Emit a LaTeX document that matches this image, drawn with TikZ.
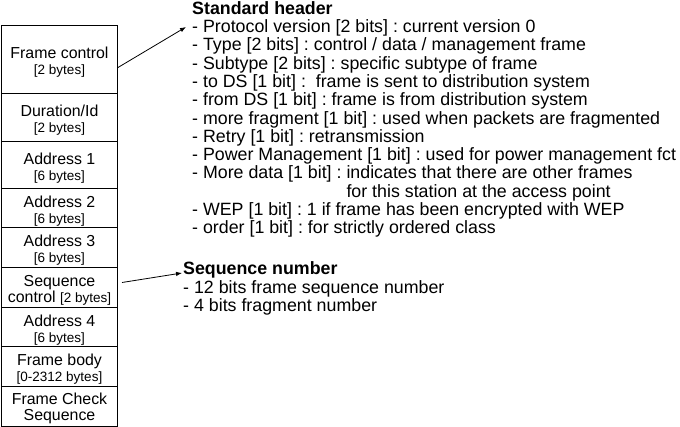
\documentclass[tikz,border=0pt]{standalone}
\usepackage{fontspec}
\setmainfont{Liberation Sans}
\usetikzlibrary{arrows.meta}
\newcommand{\subsz}{\fontsize{13.5}{16}\selectfont}
\frenchspacing
\begin{document}
\begin{tikzpicture}[x=1pt,y=-1pt,
  field/.style={draw, line width=1pt, minimum width=116pt, inner sep=0pt, anchor=north west},
  fieldtxt/.style={align=center, font=\fontsize{15.9}{16}\selectfont, inner sep=0pt},
  txtline/.style={anchor=base west, inner sep=0pt, font=\fontsize{17.8}{18.3}\selectfont},
  arr/.style={-{Latex[length=6pt,width=4.5pt]}, line width=0.8pt}]
\useasboundingbox (0,0) rectangle (680,427);
% field boxes
\node[field, minimum height=68pt] (fc) at (1,25) {};
\node[field, minimum height=48pt] (dur) at (1,93) {};
\node[field, minimum height=47pt] (a1) at (1,141) {};
\node[field, minimum height=39pt] (a2) at (1,188) {};
\node[field, minimum height=40pt] (a3) at (1,227) {};
\node[field, minimum height=40pt] (seq) at (1,267) {};
\node[field, minimum height=39pt] (a4) at (1,307) {};
\node[field, minimum height=40pt] (body) at (1,346) {};
\node[field, minimum height=40pt] (fcs) at (1,386) {};
% field texts
\node[fieldtxt] (fct) at ([yshift=-3pt]fc.center) {Frame control\\{\subsz [2 bytes]}};
\node[fieldtxt] (durt) at ([yshift=-3pt]dur.center) {Duration/Id\\{\subsz [2 bytes]}};
\node[fieldtxt] (a1t) at ([yshift=-3pt]a1.center) {Address 1\\{\subsz [6 bytes]}};
\node[fieldtxt] (a2t) at ([yshift=-3pt]a2.center) {Address 2\\{\subsz [6 bytes]}};
\node[fieldtxt] (a3t) at ([yshift=-3pt]a3.center) {Address 3\\{\subsz [6 bytes]}};
\node[fieldtxt] (seqt) at ([yshift=-3pt]seq.center) {Sequence\\control {\subsz [2 bytes]}};
\node[fieldtxt] (a4t) at ([yshift=-3pt]a4.center) {Address 4\\{\subsz [6 bytes]}};
\node[fieldtxt] (bodyt) at ([yshift=-3pt]body.center) {Frame body\\{\subsz [0-2312 bytes]}};
\node[fieldtxt] (fcst) at ([yshift=-2pt]fcs.center) {Frame Check\\Sequence};
% standard header text
\node[txtline] (h0) at (192,14.3) {\bfseries Standard header};
\node[txtline] (h1) at (192,32.6) {- Protocol version [2 bits] : current version 0};
\node[txtline] (h2) at (192,50.9) {- Type [2 bits] : control / data / management frame};
\node[txtline] (h3) at (192,69.2) {- Subtype [2 bits] : specific subtype of frame};
\node[txtline] (h4) at (192,87.5) {- to DS [1 bit] :\ \ frame is sent to distribution system};
\node[txtline] (h5) at (192,105.8) {- from DS [1 bit] : frame is from distribution system};
\node[txtline] (h6) at (192,124.1) {- more fragment [1 bit] : used when packets are fragmented};
\node[txtline] (h7) at (192,142.4) {- Retry [1 bit] : retransmission};
\node[txtline] (h8) at (192,160.7) {- Power Management [1 bit] : used for power management fct};
\node[txtline] (h9) at (192,179.0) {- More data [1 bit] : indicates that there are other frames};
\node[txtline] (h10) at (192,197.3) {\hphantom{- More data [1 bit] :}\ for this station at the access point};
\node[txtline] (h11) at (192,215.6) {- WEP [1 bit] : 1 if frame has been encrypted with WEP};
\node[txtline] (h12) at (192,233.9) {- order [1 bit] : for strictly ordered class};
% sequence number text
\node[txtline] (s0) at (183,275.0) {\bfseries Sequence number};
\node[txtline] (s1) at (183,293.3) {- 12 bits frame sequence number};
\node[txtline] (s2) at (183,311.6) {- 4 bits fragment number};
% connectors
\coordinate (shdr) at (186,27);
\coordinate (snum) at (182,273);
\draw[arr] ([yshift=-8pt]fc.east) -- (shdr);
\draw[arr] ([xshift=4pt,yshift=5pt]seq.east) -- (snum);
\end{tikzpicture}
\end{document}
